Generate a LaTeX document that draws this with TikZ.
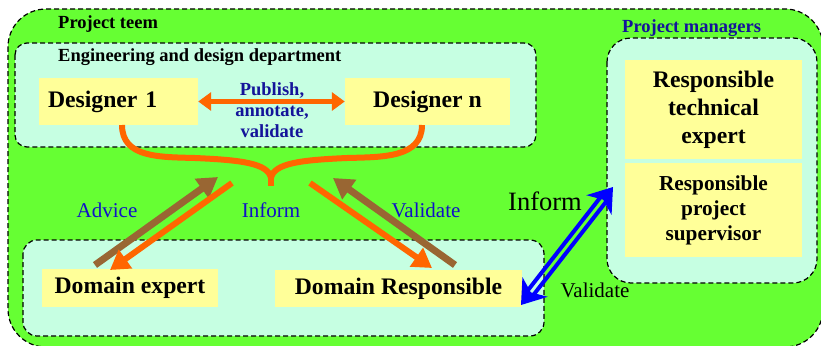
\documentclass[tikz,border=0pt]{standalone}
\usepackage{fontspec}
\setmainfont{Liberation Serif}
\usetikzlibrary{arrows.meta,calc}
\definecolor{outergreen}{HTML}{66FF33}
\definecolor{mint}{HTML}{C6FFE2}
\definecolor{yfill}{HTML}{FFFF99}
\definecolor{orng}{HTML}{FF6600}
\definecolor{brwn}{HTML}{996633}
\definecolor{navy}{HTML}{14149A}
\definecolor{lblue}{HTML}{1010C8}
\definecolor{bblue}{HTML}{0000FF}
\begin{document}
\begin{tikzpicture}[x=1pt,y=-1pt,
  groupbox/.style={draw=black, line width=1.2pt, dash pattern=on 5pt off 3pt},
  ybox/.style={fill=yfill, draw=none, inner sep=0pt, font=\bfseries\fontsize{23.7}{28}\selectfont},
  ybsmall/.style={fill=yfill, draw=none, inner sep=0pt, align=center, font=\bfseries\fontsize{21.3}{25}\selectfont},
  grouplabel/.style={anchor=base west, inner sep=0pt, font=\bfseries\fontsize{18.5}{21}\selectfont},
  bluelabel/.style={anchor=base, inner sep=0pt, text=lblue, font=\fontsize{21}{25}\selectfont},
  blacklabel/.style={anchor=base, inner sep=0pt, text=black},
  orangearrow/.style={draw=orng, line width=6pt, -{Triangle[length=19pt,width=22pt]}},
  brownarrow/.style={draw=brwn, line width=7pt, -{Triangle[length=20pt,width=23pt]}},
  bluerail/.style={draw=bblue, line width=4pt, shorten <=14pt, shorten >=14pt},
]
\useasboundingbox (0,0) rectangle (821,345);
% outer group
\begin{scope}
\clip (0,0) rectangle (821,345);
\draw[groupbox, fill=outergreen, rounded corners=38pt] (8,9) rectangle (823,347);
\end{scope}
\node[grouplabel] (lteam) at (58,29) {Project teem};
% engineering group
\draw[groupbox, fill=mint, rounded corners=12pt] (15,43) rectangle (536,147);
\node[grouplabel] (leng) at (58,62) {Engineering and design department};
% domain group
\draw[groupbox, fill=mint, rounded corners=14pt] (23,240) rectangle (544,336);
% project managers group
\draw[groupbox, fill=mint, rounded corners=24pt] (607,38) rectangle (817,283);
\node[grouplabel, text=navy] (lpm) at (622,32.5) {Project managers};

% boxes
\node[ybox, minimum width=159pt, minimum height=47pt, text width=141pt, inner xsep=9pt, align=left] (d1) at (118.5,101.5) {Designer 1};
\node[ybox, minimum width=165pt, minimum height=47pt] (dn) at (427.5,101.5) {Designer n};
\node[ybox, minimum width=176pt, minimum height=38pt] (de) at (130,288) {Domain expert};
\node[ybox, minimum width=247pt, minimum height=37pt] (dr) at (398.5,288.5) {Domain Responsible};
\node[ybox, align=center, minimum width=177pt, minimum height=99pt] (rte) at (713.5,109.5) {Responsible\\technical\\expert};
\node[ybsmall, minimum width=177pt, minimum height=94pt] (rps) at (713.5,210) {Responsible\\project\\supervisor};

% designers double arrow
\draw[draw=orng, line width=5pt, {Triangle[length=13pt,width=18pt]}-{Triangle[length=13pt,width=18pt]}] (d1.east) -- (dn.west);
\node[anchor=base, inner sep=0pt, align=center, text=navy, font=\bfseries\fontsize{18.5}{21}\selectfont] (lpub) at (272,137) {Publish,\\annotate,\\validate};

% brace
\coordinate (bl) at (122,125);
\coordinate (br) at (422,125);
\coordinate (bm) at (271,178);
\coordinate (bt) at (271,186);
\draw[draw=orng, line width=6pt, line join=round]
  (bl) .. controls (122,158) and (160,157) .. (195,158)
       .. controls (240,160) and (268,163) .. (bm)
       .. controls (274,163) and (302,160) .. (347,158)
       .. controls (382,157) and (422,158) .. (br);
\draw[draw=orng, line width=6pt] (bm) -- (bt);

% left pair of arrows
\coordinate (advS) at (95,265);
\coordinate (advE) at (218,177);
\coordinate (infLS) at (232,183);
\coordinate (infLE) at (110,270);
\draw[brownarrow] (advS) -- (advE);
\draw[orangearrow] (infLS) -- (infLE);
% right pair
\coordinate (infRS) at (310,183);
\coordinate (infRE) at (432,268);
\coordinate (valS) at (455,265);
\coordinate (valE) at (333,178);
\draw[orangearrow] (infRS) -- (infRE);
\draw[brownarrow] (valS) -- (valE);

\node[bluelabel] (ladv) at (107,217) {Advice};
\node[bluelabel] (linf) at (271,217) {Inform};
\node[bluelabel] (lval) at (426,217) {Validate};

% blue hollow double arrow
\coordinate (bA) at (613,187);
\coordinate (bB) at (521,305);
\draw[bluerail] ($(bB)!3.6pt!90:(bA)$) -- ($(bA)!3.6pt!-90:(bB)$);
\draw[bluerail] ($(bB)!3.6pt!-90:(bA)$) -- ($(bA)!3.6pt!90:(bB)$);
\fill[bblue] (bA) -- ($(bA)!28pt!35:(bB)$) -- ($(bA)!16pt!(bB)$) -- ($(bA)!28pt!-35:(bB)$) -- cycle;
\fill[bblue] (bB) -- ($(bB)!28pt!35:(bA)$) -- ($(bB)!16pt!(bA)$) -- ($(bB)!28pt!-35:(bA)$) -- cycle;
\node[blacklabel, font=\fontsize{26.5}{30}\selectfont] (linf2) at (545,210) {Inform};
\node[blacklabel, font=\fontsize{21}{25}\selectfont] (lval2) at (595,297) {Validate};
\end{tikzpicture}
\end{document}
